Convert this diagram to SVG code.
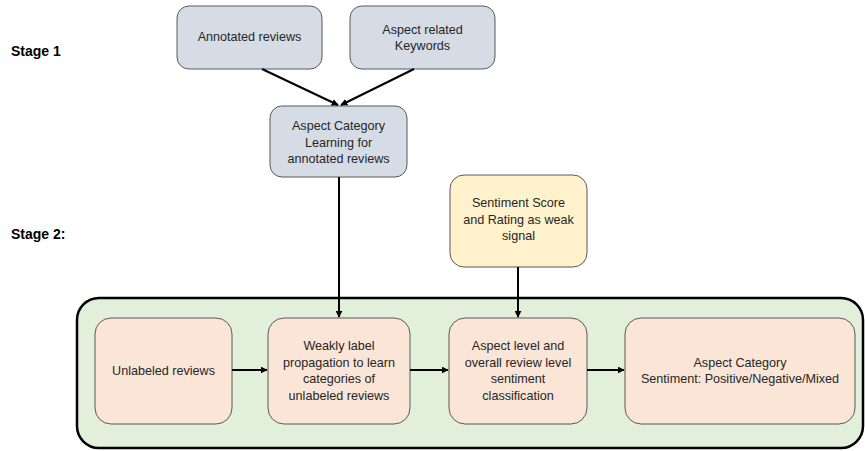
<svg xmlns="http://www.w3.org/2000/svg" width="865" height="451" viewBox="0 0 865 451">
<defs>
<marker id="ah" viewBox="0 0 10 10" refX="9" refY="5" markerWidth="7" markerHeight="7" markerUnits="userSpaceOnUse" orient="auto">
<path d="M0,0 L10,5 L0,10 z" fill="#000"/>
</marker>
<style>
.t{font-family:"Liberation Sans",Arial,sans-serif;font-size:12.6px;fill:#262626;text-anchor:middle}
.st{font-family:"Liberation Sans",Arial,sans-serif;font-size:14px;font-weight:bold;fill:#000}
.g{fill:#d6dce5;stroke:#595959;stroke-width:1}
.y{fill:#fff2cc;stroke:#595959;stroke-width:1}
.p{fill:#fbe5d6;stroke:#595959;stroke-width:1}
.c{stroke:#000;stroke-width:2;fill:none;marker-end:url(#ah)}
</style>
</defs>
<rect width="865" height="451" fill="#fff"/>
<text class="st" x="11" y="56">Stage 1</text>
<text class="st" x="11" y="239">Stage 2:</text>
<g id="container"><rect x="77" y="298" width="786" height="150" rx="22" fill="#e2efda" stroke="#000" stroke-width="2.5"/></g>
<g id="annotated"><rect class="g" x="177" y="6" width="145" height="63" rx="12"/><text class="t" x="249.5" y="41">Annotated reviews</text></g>
<g id="keywords"><rect class="g" x="350" y="6" width="145" height="63" rx="12"/><text class="t" x="422.5" y="33.5">Aspect related</text><text class="t" x="422.5" y="50">Keywords</text></g>
<g id="learning"><rect class="g" x="270" y="106" width="137" height="71" rx="12"/><text class="t" x="338.5" y="130">Aspect Category</text><text class="t" x="338.5" y="146.5">Learning for</text><text class="t" x="338.5" y="163">annotated reviews</text></g>
<g id="sentiment"><rect class="y" x="450" y="175" width="137" height="92" rx="14"/><text class="t" x="518.5" y="207">Sentiment Score</text><text class="t" x="518.5" y="223.5">and Rating as weak</text><text class="t" x="518.5" y="240">signal</text></g>
<g id="unlabeled"><rect class="p" x="95" y="318" width="137" height="106" rx="16"/><text class="t" x="163.5" y="375">Unlabeled reviews</text></g>
<g id="weakly"><rect class="p" x="268" y="318" width="142" height="106" rx="16"/><text class="t" x="339" y="350">Weakly label</text><text class="t" x="339" y="366.5">propagation to learn</text><text class="t" x="339" y="383">categories of</text><text class="t" x="339" y="399.5">unlabeled reviews</text></g>
<g id="aspectlevel"><rect class="p" x="449" y="318" width="138" height="106" rx="16"/><text class="t" x="518" y="350">Aspect level and</text><text class="t" x="518" y="366.5">overall review level</text><text class="t" x="518" y="383">sentiment</text><text class="t" x="518" y="399.5">classification</text></g>
<g id="result"><rect class="p" x="625" y="318" width="230" height="106" rx="16"/><text class="t" x="740" y="366.5">Aspect Category</text><text class="t" x="740" y="383">Sentiment: Positive/Negative/Mixed</text></g>
<g id="connectors">
<line class="c" x1="262" y1="69" x2="338" y2="105"/>
<line class="c" x1="414" y1="69" x2="341" y2="105"/>
<line class="c" x1="339" y1="177" x2="339" y2="317"/>
<line class="c" x1="518" y1="267" x2="518" y2="317"/>
<line class="c" x1="232" y1="370" x2="267" y2="370"/>
<line class="c" x1="410" y1="370" x2="448" y2="370"/>
<line class="c" x1="587" y1="370" x2="624" y2="370"/>
</g>
</svg>
